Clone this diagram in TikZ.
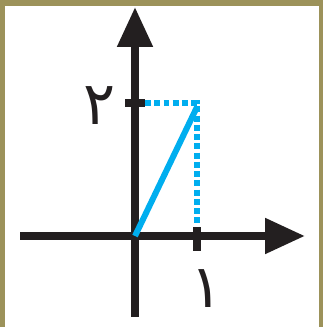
\documentclass[tikz,border=0pt]{standalone}
\usepackage{fontspec}
\newfontfamily\arabicfont[Script=Arabic]{DejaVu Sans}
\usetikzlibrary{arrows.meta, calc}
\definecolor{frameolive}{RGB}{156,146,90}
\definecolor{linecyan}{RGB}{0,174,239}
\definecolor{inkblack}{RGB}{35,31,32}
\tikzset{
  axis/.style={draw=inkblack, line width=4.6pt, -{Triangle[length=0.8cm,width=0.68cm]}},
  tickmark/.style={draw=inkblack, line width=5pt},
  guide/.style={draw=linecyan, line width=3.4pt, dash pattern=on 0.12cm off 0.065cm},
  graphline/.style={draw=linecyan, line width=3.4pt},
  digit/.style={font=\arabicfont\fontsize{34}{34}\selectfont, inner sep=0pt, text=inkblack},
}
\begin{document}
\begin{tikzpicture}[x=0.02cm, y=0.02cm]
  % Frame
  \fill[frameolive] (0,0) rectangle (323,327);
  \fill[white] (5,0) rectangle (319,321);
  \useasboundingbox (0,0) rectangle (323,327);

  % Points
  \coordinate (O) at (135,91);
  \coordinate (xstart) at (20,91);
  \coordinate (xend) at (305,91);
  \coordinate (ystart) at (135,10);
  \coordinate (yend) at (135,320);
  \coordinate (X1) at (197,91);
  \coordinate (Y2) at (135,224);
  \coordinate (P) at (197,224);

  % Guides
  \draw[guide] ($(Y2)+(10,0)$) -- (P) -- ($(X1)+(0,9)$);

  % Axes
  \draw[axis] (xstart) -- (xend);
  \draw[axis] (ystart) -- (yend);

  % Ticks
  \draw[tickmark] ($(X1)+(0,-15)$) -- ($(X1)+(0,9)$);
  \draw[tickmark] ($(Y2)+(-10,0)$) -- ($(Y2)+(10,0)$);

  % Graph
  \draw[graphline] (O) -- ($(P)+(0,-4)$);

  % Labels
  \node[digit] (two) at (100,221) {٢};
  \node[digit] (one) at (207,38) {١};
\end{tikzpicture}
\end{document}
